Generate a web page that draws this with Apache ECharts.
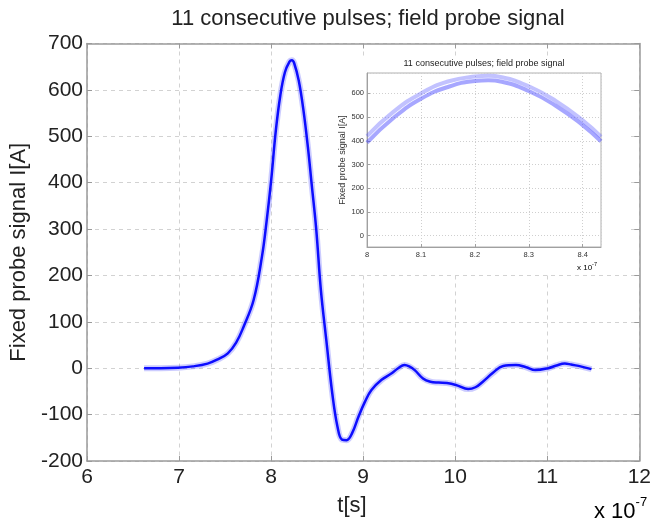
<!DOCTYPE html>
<html>
<head>
<meta charset="utf-8">
<script src="https://cdn.jsdelivr.net/npm/echarts@6/dist/echarts.min.js"></script>
<style>
  html, body { margin: 0; padding: 0; background: #fff; }
  #chart { width: 654px; height: 519px; }
</style>
</head>
<body>
<div id="chart"></div>
<script>
// time in units of 1e-7 s, signal in A
const pulseTime = [6.62, 6.8, 6.99, 7.15, 7.31, 7.42, 7.53, 7.62, 7.7, 7.81, 7.9, 7.95, 8.0, 8.05, 8.1, 8.15, 8.2, 8.225, 8.25, 8.3, 8.35, 8.4, 8.44, 8.49, 8.54, 8.6, 8.665, 8.72, 8.77, 8.82, 8.88, 8.95, 9.02, 9.09, 9.2, 9.31, 9.38, 9.45, 9.5, 9.56, 9.65, 9.73, 9.82, 9.91, 10.02, 10.14, 10.22, 10.3, 10.41, 10.52, 10.66, 10.77, 10.87, 11.01, 11.1, 11.19, 11.26, 11.34, 11.48]
const pulseSignal = [0, 0, 1, 4, 10, 19, 32, 55, 89, 147, 240, 315, 404, 510, 588, 638, 661, 664, 658, 620, 558, 476, 398, 300, 170, 60, -55, -125, -154, -155, -140, -104, -72, -47, -25, -11, 0, 7, 4, -4, -22, -29, -31, -32, -37, -45, -41, -29, -10, 5, 7, 2, -4, 0, 6, 10, 8, 5, -2]

// zoomed view of the peak (upper and lower edge of the 11 traces)
const insetTime = [8.0, 8.05, 8.1, 8.15, 8.2, 8.225, 8.25, 8.3, 8.35, 8.4, 8.434]
const insetHigh = [420, 524, 600, 650, 671, 674, 668, 630, 568, 486, 417]
const insetLow = [392, 498, 577, 627, 652, 655, 649, 610, 548, 466, 398]

const titleText = '11 consecutive pulses; field probe signal'
const yName = 'Fixed probe signal I[A]'

const font = 'Liberation Sans'
const textColor = '#222'
const axisGrey = '#9a9a9a'
const gridGrey = '#d2d2d2'

const pairs = (xs, ys) => xs.map((x, i) => [x, ys[i]])

const chart = echarts.init(document.getElementById('chart'))

const option = {
	animation: false,
	backgroundColor: '#fff',
	grid: [
		{ left: 87, top: 43.5, right: 5, bottom: 58 },
		{ left: 367, top: 73, width: 234, height: 174, show: true, backgroundColor: '#fff', borderColor: '#b0b0b0', borderWidth: 1, z: 4 },
	],
	xAxis: [
		{
			gridIndex: 0, type: 'value', min: 6, max: 12, interval: 1,
			axisLine: { show: true, onZero: false, lineStyle: { color: axisGrey, width: 1.5 } },
			axisTick: { inside: true, length: 5, lineStyle: { color: axisGrey } },
			axisLabel: { fontSize: 21, color: textColor, margin: 6, fontFamily: font },
			splitLine: { show: true, lineStyle: { type: [4, 4], color: gridGrey } },
		},
		{
			gridIndex: 0, type: 'value', position: 'top', min: 6, max: 12, interval: 1,
			axisLine: { show: true, onZero: false, lineStyle: { color: axisGrey, width: 1.5 } },
			axisTick: { inside: true, length: 5, lineStyle: { color: axisGrey } },
			axisLabel: { show: false },
			splitLine: { show: false },
		},
		{
			gridIndex: 1, type: 'value', min: 8, max: 8.434, interval: 0.1, z: 5,
			axisLine: { show: true, onZero: false, lineStyle: { color: '#a0a0a0', width: 1 } },
			axisTick: { inside: true, length: 3, lineStyle: { color: '#a0a0a0' } },
			axisLabel: { fontSize: 7.5, color: '#333', margin: 4, fontFamily: font, showMaxLabel: false },
			splitLine: { show: true, lineStyle: { type: [1, 2], color: '#cfcfcf' } },
		},
	],
	yAxis: [
		{
			gridIndex: 0, type: 'value', min: -200, max: 700, interval: 100,
			name: yName, nameLocation: 'middle', nameGap: 46,
			nameTextStyle: { fontSize: 22, color: textColor, fontFamily: font },
			axisLine: { show: true, onZero: false, lineStyle: { color: axisGrey, width: 1.5 } },
			axisTick: { inside: true, length: 5, lineStyle: { color: axisGrey } },
			axisLabel: { fontSize: 21, color: textColor, margin: 4, fontFamily: font },
			splitLine: { show: true, lineStyle: { type: [4, 4], color: gridGrey } },
		},
		{
			gridIndex: 0, type: 'value', position: 'right', min: -200, max: 700, interval: 100,
			axisLine: { show: true, onZero: false, lineStyle: { color: axisGrey, width: 1.5 } },
			axisTick: { inside: true, length: 5, lineStyle: { color: axisGrey } },
			axisLabel: { show: false },
			splitLine: { show: false },
		},
		{
			gridIndex: 1, type: 'value', min: -48, max: 686, splitNumber: 7, z: 5,
			name: yName, nameLocation: 'middle', nameGap: 20,
			nameTextStyle: { fontSize: 9, color: '#333', fontFamily: font },
			axisLine: { show: true, onZero: false, lineStyle: { color: '#a0a0a0', width: 1 } },
			axisTick: { inside: true, length: 3, lineStyle: { color: '#a0a0a0' } },
			axisLabel: { fontSize: 7.5, color: '#333', margin: 3, fontFamily: font, showMinLabel: false, showMaxLabel: false },
			splitLine: { show: true, lineStyle: { type: [1, 2], color: '#cfcfcf' } },
		},
	],
	graphic: [
		{ type: 'rect', shape: { x: 328, y: 57, width: 299, height: 215 }, style: { fill: '#fff' }, z: 1 },
		{ type: 'text', x: 368, y: 19, z: 10, style: { text: titleText, font: '22px "Liberation Sans"', fill: textColor, align: 'center', verticalAlign: 'middle' } },
		{ type: 'text', x: 484, y: 64, z: 10, style: { text: titleText, font: '9px "Liberation Sans"', fill: '#222', align: 'center', verticalAlign: 'middle' } },
		{ type: 'text', x: 352, y: 506, z: 10, style: { text: 't[s]', font: '22px "Liberation Sans"', fill: textColor, align: 'center', verticalAlign: 'middle' } },
		{
			type: 'text', x: 594, y: 490, z: 10,
			style: {
				text: '{a|x 10}{b|-7}',
				rich: {
					a: { fontSize: 22, fontFamily: font, color: textColor, padding: [11, 0, 0, 0] },
					b: { fontSize: 13, fontFamily: font, color: textColor, padding: [0, 0, 9, 0] },
				},
			},
		},
		{
			type: 'text', x: 577, y: 260, z: 10,
			style: {
				text: '{a|x 10}{b|-7}',
				rich: {
					a: { fontSize: 8, fontFamily: font, color: '#333', padding: [4, 0, 0, 0] },
					b: { fontSize: 5.5, fontFamily: font, color: '#333', padding: [0, 0, 3, 0] },
				},
			},
		},
	],
	series: [
		{
			type: 'line', xAxisIndex: 0, yAxisIndex: 0, data: pairs(pulseTime, pulseSignal),
			showSymbol: false, smooth: 0.4, z: 2,
			lineStyle: { width: 6, color: 'rgba(50,50,255,0.25)' },
		},
		{
			type: 'line', xAxisIndex: 0, yAxisIndex: 0, data: pairs(pulseTime, pulseSignal),
			showSymbol: false, smooth: 0.4, z: 3,
			lineStyle: { width: 2.5, color: '#0d0dff' },
		},
		{
			type: 'line', xAxisIndex: 2, yAxisIndex: 2, data: pairs(insetTime, insetHigh),
			showSymbol: false, smooth: 0.5, z: 6,
			lineStyle: { width: 4, color: 'rgba(80,80,255,0.35)' },
		},
		{
			type: 'line', xAxisIndex: 2, yAxisIndex: 2, data: pairs(insetTime, insetLow),
			showSymbol: false, smooth: 0.5, z: 6,
			lineStyle: { width: 4, color: 'rgba(60,60,255,0.45)' },
		},
	],
}

chart.setOption(option)
</script>
</body>
</html>
